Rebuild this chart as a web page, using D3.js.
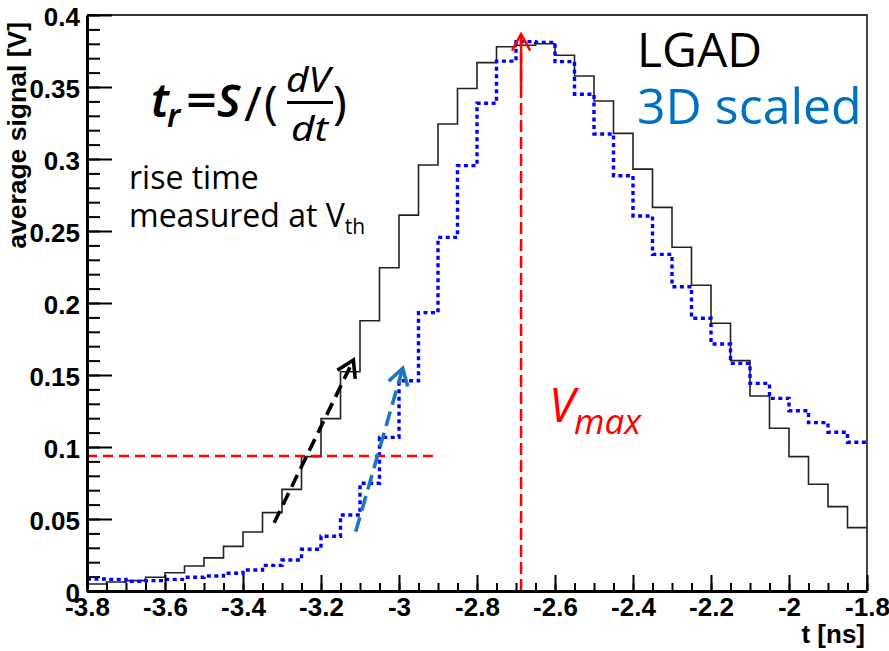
<!DOCTYPE html>
<html>
<head>
<meta charset="utf-8">
<script src="https://cdn.jsdelivr.net/npm/d3@7"></script>
<style>
  body { margin: 0; background: #fff; }
  svg { display: block; }
  .axis-text { font-family: 'Liberation Sans', Arial, sans-serif; font-weight: bold; font-size: 26px; fill: #000; }
  .note { font-family: 'Open Sans', sans-serif; }
  .formula { font-family: 'Noto Sans', sans-serif; font-style: italic; fill: #000; }
</style>
</head>
<body>
<div id="chart"></div>
<script>

// Histogram binning (40 bins of 0.05 ns)
const t_min = -3.8
const t_max = -1.8
const n_bins = 40

// Average signal per bin [V]
const lgad_signal = [
  0.0049, 0.0063, 0.0072, 0.0095, 0.0127, 0.0174, 0.023, 0.031, 0.041, 0.0544,
  0.0706, 0.0933, 0.1197, 0.1523, 0.1877, 0.2245, 0.261, 0.2958, 0.3243, 0.349,
  0.3669, 0.378, 0.379, 0.380, 0.372, 0.3576, 0.3403, 0.3178, 0.293, 0.2664,
  0.2387, 0.2123, 0.1859, 0.160, 0.1354, 0.113, 0.0933, 0.0741, 0.0586, 0.044
]
const scaled_3d_signal = [
  0.0083, 0.0081, 0.0067, 0.0072, 0.0081, 0.0095, 0.0104, 0.0123, 0.0146, 0.0178,
  0.0215, 0.029, 0.038, 0.0528, 0.0748, 0.1067, 0.146, 0.1933, 0.2456, 0.2954,
  0.3387, 0.368, 0.3815, 0.381, 0.3676, 0.345, 0.3174, 0.2884, 0.2604, 0.2338,
  0.2113, 0.1894, 0.1715, 0.1581, 0.1442, 0.1338, 0.1252, 0.1169, 0.1102, 0.1033
]

// Axis ticks
const x_ticks = [-3.8, -3.6, -3.4, -3.2, -3, -2.8, -2.6, -2.4, -2.2, -2, -1.8]
const x_tick_labels = ['-3.8', '-3.6', '-3.4', '-3.2', '-3', '-2.8', '-2.6', '-2.4', '-2.2', '-2', '-1.8']
const y_ticks = [0, 0.05, 0.1, 0.15, 0.2, 0.25, 0.3, 0.35, 0.4]
const y_tick_labels = ['0', '0.05', '0.1', '0.15', '0.2', '0.25', '0.3', '0.35', '0.4']

// Annotations
const v_th = 0.0937
const v_th_end = -2.913
const t_vmax = -2.687
const v_max_tip = 0.3868
const lgad_slope = [[-3.32, 0.0474], [-3.117, 0.1604]]
const scaled_slope = [[-3.111, 0.0412], [-2.9905, 0.1547]]

const width = 889
const height = 651
const margin = { top: 15, right: 22, bottom: 60, left: 87 }

const svg = d3.select('#chart')
  .append('svg')
  .attr('width', width)
  .attr('height', height)

const x = d3.scaleLinear()
  .domain([t_min, t_max])
  .range([margin.left, width - margin.right])
const y = d3.scaleLinear()
  .domain([0, 0.4])
  .range([height - margin.bottom, margin.top])

// Histograms as steps
const bin_w = (t_max - t_min) / n_bins
function steps(values) {
  let pts = values.map((v, i) => [t_min + i * bin_w, v])
  pts.push([t_max, values[values.length - 1]])
  return pts
}
const step_line = d3.line()
  .x(d => x(d[0]))
  .y(d => y(d[1]))
  .curve(d3.curveStepAfter)

svg.append('path')
  .attr('d', step_line(steps(lgad_signal)))
  .attr('fill', 'none')
  .attr('stroke', '#222')
  .attr('stroke-width', 1.6)

svg.append('path')
  .attr('d', step_line(steps(scaled_3d_signal)))
  .attr('fill', 'none')
  .attr('stroke', '#0000ff')
  .attr('stroke-width', 3.4)
  .attr('stroke-dasharray', '4,3.5')

// Threshold and Vmax lines
svg.append('line')
  .attr('x1', x(t_min)).attr('x2', x(v_th_end))
  .attr('y1', y(v_th)).attr('y2', y(v_th))
  .attr('stroke', '#ff0000')
  .attr('stroke-width', 2.5)
  .attr('stroke-dasharray', '10,6')

svg.append('line')
  .attr('x1', x(t_vmax)).attr('x2', x(t_vmax))
  .attr('y1', y(0)).attr('y2', y(v_max_tip))
  .attr('stroke', '#ff0000')
  .attr('stroke-width', 2.5)
  .attr('stroke-dasharray', '12,5')

// Open arrow head at the end of a segment
function arrow(p0, p1, color, w, dash, len, ang) {
  let x0 = x(p0[0]), y0 = y(p0[1])
  let x1 = x(p1[0]), y1 = y(p1[1])
  svg.append('line')
    .attr('x1', x0).attr('y1', y0)
    .attr('x2', x1).attr('y2', y1)
    .attr('stroke', color)
    .attr('stroke-width', w)
    .attr('stroke-dasharray', dash)
  let a = Math.atan2(y0 - y1, x0 - x1)
  let head = [
    [x1 + len * Math.cos(a + ang), y1 + len * Math.sin(a + ang)],
    [x1, y1],
    [x1 + len * Math.cos(a - ang), y1 + len * Math.sin(a - ang)]
  ]
  svg.append('path')
    .attr('d', d3.line()(head))
    .attr('fill', 'none')
    .attr('stroke', color)
    .attr('stroke-width', w)
}
arrow([t_vmax, 0.35], [t_vmax, v_max_tip], '#ff0000', 2.5, null, 19, 0.5)
arrow(lgad_slope[0], lgad_slope[1], '#000', 3.6, '13,7', 19, 0.55)
arrow(scaled_slope[0], scaled_slope[1], '#1a78c2', 3.6, '15,7', 19, 0.55)

// Frame (top and right)
svg.append('path')
  .attr('d', `M${x(t_min)},${y(0.4)}H${x(t_max)}V${y(0)}`)
  .attr('fill', 'none')
  .attr('stroke', '#333')
  .attr('stroke-width', 1.8)

// Y axis: major and minor ticks pointing inward
let y_minor = d3.range(0, 0.4001, 0.01)
svg.append('g')
  .attr('transform', `translate(${margin.left},0)`)
  .call(d3.axisLeft(y).tickValues(y_minor).tickSize(-13).tickSizeOuter(0).tickFormat(''))
  .call(g => g.select('.domain').remove())
  .call(g => g.selectAll('line').attr('stroke-width', 2))

let y_axis = svg.append('g')
  .attr('transform', `translate(${margin.left},0)`)
  .call(d3.axisLeft(y)
    .tickValues(y_ticks)
    .tickSize(-25)
    .tickSizeOuter(0)
    .tickPadding(7)
    .tickFormat((d, i) => y_tick_labels[i]))
y_axis.select('.domain').attr('stroke-width', 3)
y_axis.selectAll('line').attr('stroke-width', 2)
y_axis.selectAll('text')
  .attr('class', 'axis-text')
  .attr('dy', 10.5)

// X axis
let x_minor = d3.range(t_min, t_max + 0.001, 0.05)
svg.append('g')
  .attr('transform', `translate(0,${height - margin.bottom})`)
  .call(d3.axisBottom(x).tickValues(x_minor).tickSize(-8).tickSizeOuter(0).tickFormat(''))
  .call(g => g.select('.domain').remove())
  .call(g => g.selectAll('line').attr('stroke-width', 2))

let x_axis = svg.append('g')
  .attr('transform', `translate(0,${height - margin.bottom})`)
  .call(d3.axisBottom(x)
    .tickValues(x_ticks)
    .tickSize(-16)
    .tickSizeOuter(0)
    .tickFormat((d, i) => x_tick_labels[i]))
x_axis.select('.domain').attr('stroke-width', 3)
x_axis.selectAll('line').attr('stroke-width', 2)
x_axis.selectAll('text')
  .attr('class', 'axis-text')
  .attr('y', 25)
  .attr('dy', null)

// Axis titles
svg.append('text')
  .attr('class', 'axis-text')
  .attr('text-anchor', 'end')
  .attr('x', 865)
  .attr('y', 643)
  .text('t [ns]')

svg.append('text')
  .attr('class', 'axis-text')
  .attr('text-anchor', 'end')
  .attr('transform', 'translate(26,22) rotate(-90)')
  .style('font-size', '26.5px')
  .text('average signal [V]')

// Formula t_r = S/(dV/dt)
let f = svg.append('g').attr('class', 'formula').attr('font-weight', 600)
f.append('text').attr('x', 151).attr('y', 117).attr('font-size', 47).text('t')
f.append('text').attr('x', 167).attr('y', 127).attr('font-size', 32).text('r')
f.append('text').attr('x', 186).attr('y', 117).attr('font-size', 46).attr('font-style', 'normal')
  .attr('textLength', 31).attr('lengthAdjust', 'spacingAndGlyphs').text('=')
f.append('text').attr('x', 217).attr('y', 117).attr('font-size', 45).text('S')
f.append('text').attr('x', 244).attr('y', 121).attr('font-size', 48).attr('font-style', 'normal')
  .attr('font-weight', 400).text('/')
f.append('text').attr('x', 264).attr('y', 119).attr('font-size', 46).attr('font-style', 'normal')
  .attr('font-weight', 400).text('(')
f.append('text').attr('x', 286).attr('y', 92).attr('font-size', 35).attr('font-weight', 400)
  .attr('textLength', 44).attr('lengthAdjust', 'spacingAndGlyphs').text('dV')
f.append('line')
  .attr('x1', 287).attr('x2', 333)
  .attr('y1', 102.5).attr('y2', 102.5)
  .attr('stroke', '#000').attr('stroke-width', 3.2)
f.append('text').attr('x', 291).attr('y', 141).attr('font-size', 35).attr('font-weight', 400)
  .attr('textLength', 37).attr('lengthAdjust', 'spacingAndGlyphs').text('dt')
f.append('text').attr('x', 333).attr('y', 119).attr('font-size', 46).attr('font-style', 'normal')
  .attr('font-weight', 400).text(')')

// Notes
let note = svg.append('text').attr('class', 'note').attr('font-size', 32).attr('fill', '#000')
note.append('tspan').attr('x', 129).attr('y', 189).text('rise time')
note.append('tspan').attr('x', 129).attr('y', 227).text('measured at V')
note.append('tspan').attr('dy', 7).attr('font-size', 21).text('th')

svg.append('text')
  .attr('class', 'note')
  .attr('x', 637).attr('y', 67)
  .attr('font-size', 48)
  .attr('fill', '#000')
  .text('LGAD')

svg.append('text')
  .attr('class', 'note')
  .attr('x', 637).attr('y', 124)
  .attr('font-size', 50)
  .attr('fill', '#0070c0')
  .text('3D scaled')

let vmax = svg.append('text').attr('class', 'note').attr('fill', '#ff0000').attr('font-style', 'italic')
vmax.append('tspan').attr('x', 549).attr('y', 422).attr('font-size', 47).text('V')
vmax.append('tspan').attr('x', 574).attr('y', 434).attr('font-size', 35).text('max')

</script>
</body>
</html>
